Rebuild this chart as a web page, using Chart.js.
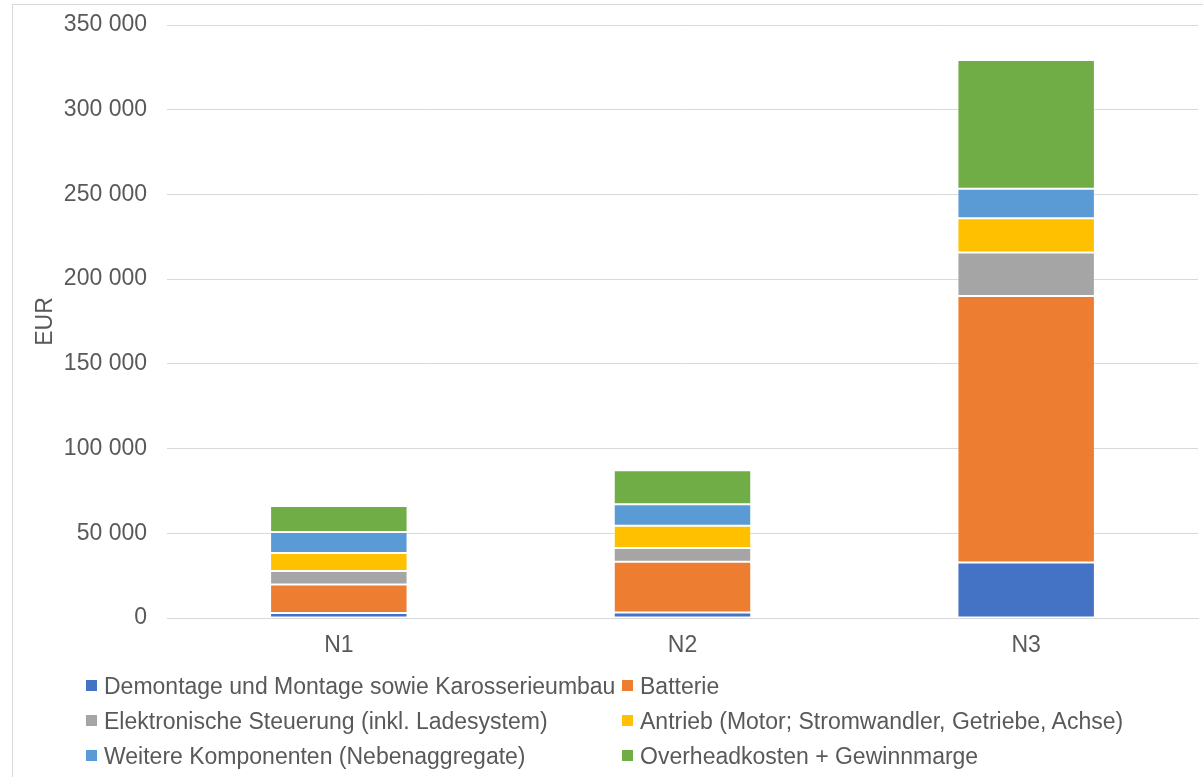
<!DOCTYPE html>
<html>
<head>
<meta charset="utf-8">
<script src="https://cdn.jsdelivr.net/npm/chart.js@4/dist/chart.umd.min.js"></script>
<style>
    html, body { margin: 0; padding: 0; background: #fff; }
    #wrap { position: relative; width: 1203px; height: 777px; overflow: hidden; }
    #frame { position: absolute; left: 12px; top: 4px; width: 1300px; height: 900px; border: 1px solid #d9d9d9; box-sizing: border-box; }
    canvas { position: absolute; left: 0; top: 0; }
    #legend { position: absolute; left: 86px; top: 669px; font-family: "Liberation Sans", Arial, sans-serif; font-size: 23px; color: #595959; }
    .legend-item { position: absolute; white-space: nowrap; height: 35px; line-height: 35px; }
    .legend-box { display: inline-block; width: 11px; height: 11px; margin-right: 7px; vertical-align: middle; position: relative; top: -2px; }
</style>
</head>
<body>
<div id="wrap">
    <div id="frame"></div>
    <canvas id="costChart" width="1203" height="777"></canvas>
    <div id="legend"></div>
</div>
<script>
// Kategorien und Werte (EUR)
const categories = ['N1', 'N2', 'N3'];
const seriesNames = [
    'Demontage und Montage sowie Karosserieumbau',
    'Batterie',
    'Elektronische Steuerung (inkl. Ladesystem)',
    'Antrieb (Motor; Stromwandler, Getriebe, Achse)',
    'Weitere Komponenten (Nebenaggregate)',
    'Overheadkosten + Gewinnmarge'
];
const demontage = [3000, 3200, 32800];
const batterie = [16800, 30000, 157300];
const steuerung = [8000, 8100, 25600];
const antrieb = [10500, 13200, 20300];
const weitere = [12400, 12600, 17300];
const overhead = [15400, 20100, 76000];
const yTicks = [0, 50000, 100000, 150000, 200000, 250000, 300000, 350000];

const colors = ['#4472C4', '#ED7D31', '#A5A5A5', '#FFC000', '#5B9BD5', '#70AD47'];
const seriesValues = [demontage, batterie, steuerung, antrieb, weitere, overhead];
const textColor = '#595959';
const fontFamily = '"Liberation Sans", Arial, sans-serif';

const datasets = seriesNames.map((name, i) => ({
    label: name,
    data: seriesValues[i],
    backgroundColor: colors[i],
    borderColor: 'rgba(255, 255, 255, 0.3)',
    borderWidth: 1,
    borderSkipped: false,
    barPercentage: 0.4,
    categoryPercentage: 1.0
}));

const chart = new Chart(document.getElementById('costChart'), {
    type: 'bar',
    data: { labels: categories, datasets: datasets },
    options: {
        responsive: false,
        animation: false,
        layout: { padding: { left: 0, top: 25, right: 5, bottom: 0 } },
        plugins: {
            legend: { display: false },
            tooltip: { enabled: false }
        },
        scales: {
            x: {
                stacked: true,
                grid: { display: false, drawTicks: false },
                border: { color: '#d9d9d9', width: 1 },
                ticks: {
                    color: textColor,
                    padding: 14,
                    font: { family: fontFamily, size: 23 }
                },
                afterFit: (scale) => { scale.height = 159; }
            },
            y: {
                stacked: true,
                min: 0,
                max: 350000,
                afterBuildTicks: (scale) => { scale.ticks = yTicks.map(v => ({ value: v })); },
                grid: { color: '#d9d9d9', drawTicks: false },
                border: { display: false },
                ticks: {
                    color: textColor,
                    padding: 20,
                    font: { family: fontFamily, size: 23 },
                    callback: (v) => v === 0 ? '0' : Math.floor(v / 1000) + ' 000'
                },
                title: {
                    display: true,
                    text: 'EUR',
                    color: textColor,
                    padding: { top: 32, bottom: 0 },
                    font: { family: fontFamily, size: 23 }
                },
                afterFit: (scale) => {
                    scale.width = 167;
                    scale.paddingTop = 0;
                    scale.paddingBottom = 0;
                }
            }
        }
    }
});

// Legende in zwei Spalten
const legend = document.getElementById('legend');
chart.data.datasets.forEach((ds, i) => {
    const item = document.createElement('div');
    item.className = 'legend-item';
    item.style.left = (i % 2 === 0 ? 0 : 536) + 'px';
    item.style.top = (Math.floor(i / 2) * 35) + 'px';
    item.innerHTML = `<span class="legend-box" style="background:${ds.backgroundColor}"></span>${ds.label}`;
    legend.appendChild(item);
});
</script>
</body>
</html>
